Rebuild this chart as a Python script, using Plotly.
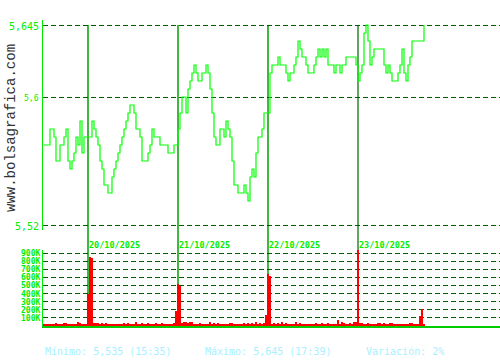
import plotly.graph_objects as go

# ---- data (sample index: one sample every ~2 px of the time axis) ----
price = [5.57, 5.57, 5.57, 5.58, 5.58, 5.575, 5.56, 5.56, 5.57, 5.57,
         5.575, 5.58, 5.56, 5.555, 5.56, 5.565, 5.575, 5.57, 5.585, 5.565,
         5.575, 5.575, 5.575, 5.575, 5.585, 5.58, 5.575, 5.57, 5.56, 5.555,
         5.545, 5.545, 5.54, 5.54, 5.55, 5.555, 5.56, 5.565, 5.57, 5.575,
         5.58, 5.585, 5.59, 5.595, 5.595, 5.59, 5.58, 5.58, 5.575, 5.56,
         5.56, 5.56, 5.565, 5.57, 5.58, 5.575, 5.575, 5.575, 5.57, 5.57,
         5.57, 5.57, 5.565, 5.565, 5.565, 5.57, 5.57, 5.58, 5.59, 5.6,
         5.6, 5.59, 5.605, 5.61, 5.615, 5.62, 5.615, 5.61, 5.61, 5.615,
         5.615, 5.62, 5.615, 5.605, 5.59, 5.575, 5.57, 5.57, 5.58, 5.58,
         5.575, 5.585, 5.58, 5.575, 5.56, 5.545, 5.545, 5.54, 5.54, 5.54,
         5.545, 5.54, 5.535, 5.55, 5.555, 5.55, 5.565, 5.575, 5.575, 5.58,
         5.59, 5.59, 5.59, 5.615, 5.62, 5.62, 5.62, 5.625, 5.62, 5.62,
         5.62, 5.615, 5.61, 5.615, 5.615, 5.62, 5.625, 5.635, 5.63, 5.625,
         5.625, 5.62, 5.615, 5.615, 5.615, 5.62, 5.625, 5.63, 5.625, 5.63,
         5.625, 5.63, 5.62, 5.62, 5.62, 5.615, 5.62, 5.62, 5.615, 5.62,
         5.62, 5.625, 5.625, 5.625, 5.625, 5.625, 5.62, 5.61, 5.615, 5.62,
         5.64, 5.645, 5.635, 5.62, 5.625, 5.63, 5.63, 5.63, 5.63, 5.63,
         5.62, 5.615, 5.62, 5.615, 5.61, 5.61, 5.61, 5.615, 5.62, 5.63,
         5.615, 5.61, 5.62, 5.625, 5.635, 5.635, 5.635, 5.635, 5.635, 5.635,
         5.645]

volume_k = [20, 20, 20, 20, 20, 20, 40, 20, 20, 20,
            35, 35, 20, 20, 20, 20, 20, 45, 35, 20,
            20, 20, 400, 850, 840, 35, 35, 35, 20, 35,
            20, 35, 20, 20, 20, 20, 20, 20, 20, 20,
            35, 20, 35, 20, 20, 20, 50, 20, 20, 35,
            20, 20, 35, 20, 20, 20, 35, 20, 20, 35,
            20, 20, 20, 20, 20, 40, 180, 520, 500, 40,
            45, 50, 40, 45, 50, 20, 20, 20, 35, 20,
            20, 20, 20, 50, 20, 35, 20, 35, 20, 20,
            20, 20, 20, 40, 35, 20, 20, 20, 20, 20,
            40, 20, 35, 20, 35, 20, 45, 20, 35, 20,
            35, 135, 645, 620, 20, 35, 20, 35, 20, 45,
            20, 35, 20, 20, 20, 20, 50, 20, 35, 20,
            20, 20, 20, 20, 20, 20, 35, 20, 20, 35,
            20, 20, 35, 20, 20, 20, 20, 75, 20, 50,
            35, 20, 20, 35, 20, 45, 45, 940, 35, 35,
            20, 20, 35, 20, 20, 20, 20, 35, 35, 20,
            35, 20, 20, 35, 35, 20, 20, 20, 20, 20,
            20, 20, 20, 35, 35, 20, 20, 20, 125, 210,
            20]

sample = list(range(len(price)))
day_index = [22, 67, 112, 157]
day_labels = ["20/10/2025", "21/10/2025", "22/10/2025", "23/10/2025"]
price_ticks = [5.645, 5.6, 5.52]
price_tick_text = ["5,645", "5,6", "5,52"]
price_tick_size = [10, 8, 10]
vol_ticks = [100, 200, 300, 400, 500, 600, 700, 800, 900]
vol_tick_text = ["100K", "200K", "300K", "400K", "500K", "600K", "700K", "800K", "900K"]
summary = ["Mínimo: 5,535 (15:35)", "Máximo: 5,645 (17:39)", "Variación: 2%"]

# ---- layout geometry (pixels) ----
W, H = 500, 360
L, R, T, B = 43, 0, 20, 34
PW, PH = W - L - R, H - T - B


def px_x(px):
    return (px - L) / PW


def px_y(py):
    return (H - B - py) / PH


MONO = "DejaVu Sans Mono"
GREEN_TXT = "#00ee00"
GRID = "#005a00"

fig = go.Figure()
fig.add_trace(go.Scatter(x=sample, y=price, mode="lines", line_shape="hv",
                         line=dict(color="#00ff00", width=1.2),
                         xaxis="x", yaxis="y", hoverinfo="skip"))
fig.add_trace(go.Bar(x=sample, y=volume_k, marker_color="#ff0000",
                     marker_line_width=0, width=0.8,
                     xaxis="x", yaxis="y2", hoverinfo="skip"))

shapes = []
line_colors = ["#00a000", "#00a000", "#00a000", "#2f852f"]
for d, c in zip(day_index, line_colors):
    shapes.append(dict(type="line", xref="x", yref="paper", x0=d, x1=d,
                       y0=0, y1=px_y(25), line=dict(color=c, width=1.5),
                       layer="between"))

annotations = []
for v, t, s in zip(price_ticks, price_tick_text, price_tick_size):
    annotations.append(dict(xref="paper", yref="y", x=px_x(41), y=v, text=t,
                            xanchor="right", yanchor="middle", showarrow=False,
                            yshift=-1.5,
                            font=dict(family=MONO, size=s, color=GREEN_TXT)))
for d, t in zip(day_index, day_labels):
    annotations.append(dict(xref="x", yref="paper", x=d, y=px_y(244.5), text=t,
                            xanchor="left", yanchor="middle", showarrow=False,
                            xshift=-1,
                            font=dict(family=MONO, size=8.5, color=GREEN_TXT,
                                      weight="bold")))
for px0, t in zip([45, 205, 366], summary):
    annotations.append(dict(xref="paper", yref="paper", x=px_x(px0) - 2 / PW,
                            y=px_y(351), text=t, xanchor="left",
                            yanchor="middle", showarrow=False,
                            font=dict(family=MONO, size=10, color="#a8f0ff")))
annotations.append(dict(xref="paper", yref="paper", x=px_x(11), y=px_y(128),
                        text="www.bolsagrafica.com", textangle=-90,
                        xanchor="center", yanchor="middle", showarrow=False,
                        font=dict(family="Liberation Mono", size=14,
                                  color="#333333")))

x_lo, x_hi = -0.5, (W - 44) / 2
fig.update_layout(
    width=W, height=H, margin=dict(l=L, r=R, t=T, b=B),
    paper_bgcolor="white", plot_bgcolor="white", showlegend=False,
    bargap=0,
    xaxis=dict(domain=[0, 1], anchor="y2", range=[x_lo, x_hi],
               showgrid=False, zeroline=False, showticklabels=False,
               ticks="", showline=True, linecolor="#00cc00", linewidth=2),
    yaxis=dict(domain=[px_y(230), 1],
               range=[5.645 - 205 / 1600, 5.645 + 5 / 1600],
               tickvals=price_ticks, showticklabels=False, ticks="",
               showgrid=True, gridcolor=GRID, gridwidth=1.2,
               griddash="5px,3px", zeroline=False,
               showline=True, linecolor="#00ee00", linewidth=1.2),
    yaxis2=dict(domain=[0, px_y(250)], range=[0, 76 / (72.7 / 900)],
                tickvals=vol_ticks, ticktext=vol_tick_text, ticks="",
                tickfont=dict(family=MONO, size=8, color=GREEN_TXT,
                              weight="bold"),
                showgrid=True, gridcolor=GRID, gridwidth=1.2,
                griddash="5px,3px", zeroline=False,
                showline=True, linecolor="#00ee00", linewidth=1.2),
    shapes=shapes, annotations=annotations,
)

fig.write_html("out.html")
